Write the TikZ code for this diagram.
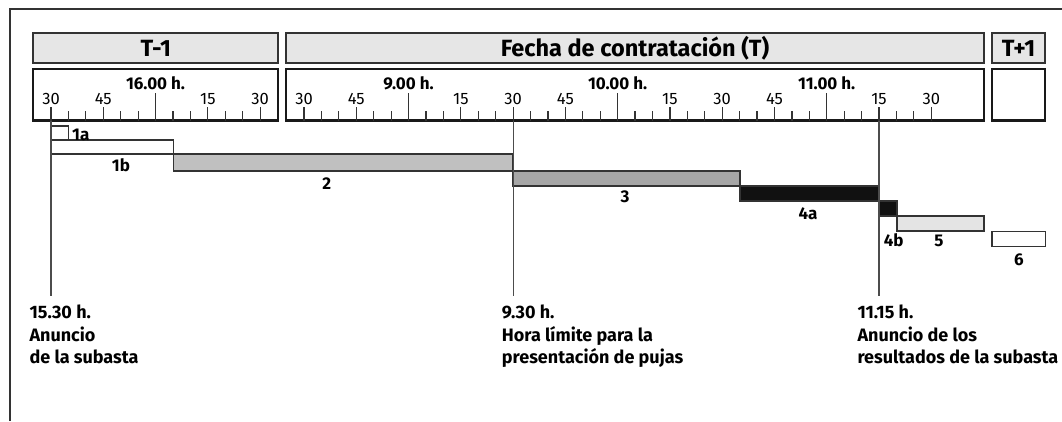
\documentclass[tikz,border=0pt]{standalone}
\usepackage{fontspec}
\setmainfont{Fira Sans}
\usetikzlibrary{fit}
\definecolor{hdrgray}{HTML}{E6E6E6}
\definecolor{edge}{HTML}{333333}
\definecolor{bartwo}{HTML}{C0C0C0}
\definecolor{barthree}{HTML}{A6A6A6}
\definecolor{barfour}{HTML}{111111}
\definecolor{barfive}{HTML}{E4E4E4}
\begin{document}
\begin{tikzpicture}[x=1pt,y=-1pt,
  frameline/.style={draw=edge, line width=1.3pt},
  hdrbox/.style={draw=edge, fill=hdrgray, line width=1.8pt, inner sep=0,
    minimum height=30, font=\bfseries\fontsize{23.5}{23.5}\selectfont,
    text height=16.2pt, text depth=0pt},
  scalebox/.style={draw=black!90, line width=2.2pt, inner sep=0, minimum height=51.2},
  tickline/.style={draw=edge, line width=1.2pt},
  bar/.style={draw=edge, line width=1.4pt, inner sep=0},
  barlbl/.style={font=\bfseries\fontsize{17}{17}\selectfont, inner sep=0, anchor=base},
  qlbl/.style={font=\fontsize{16.5}{16.5}\selectfont, inner sep=0, anchor=base},
  hlbl/.style={font=\bfseries\fontsize{17}{17}\selectfont, inner sep=0, anchor=base},
  marker/.style={draw=black!70, line width=1.2pt},
  note/.style={font=\bfseries\fontsize{18}{22.3}\selectfont, align=left, anchor=north west, inner sep=0}
]
\useasboundingbox (0,0) rectangle (1062,421);
\fill[white] (0,0) rectangle (1062,421);
% outer frame (only top and left edges visible)
\draw[frameline] (10,421) -- (10,9) -- (1062,9);

% header boxes
\node[hdrbox, minimum width=245] (hA) at (155.8,48.3) {T-1};
\node[hdrbox, minimum width=698] (hB) at (635,48.3) {Fecha de contratación (T)};
\node[hdrbox, minimum width=53] (hC) at (1018.5,48.3) {T+1};

% scale boxes
\node[scalebox, minimum width=245] (sA) at (155.8,94.9) {};
\node[scalebox, minimum width=698] (sB) at (635,94.9) {};
\node[scalebox, minimum width=53] (sC) at (1018.5,94.9) {};

% ticks, first box (15.30 to 16.30)
\foreach \t in {0,5,...,60}{
  \pgfmathsetmacro{\xx}{51+\t*3.485}
  \draw[tickline] (\xx,120.5) -- (\xx,111);
}
\foreach \t/\l in {0/30,15/45,45/15,60/30}{
  \pgfmathsetmacro{\xx}{51+\t*3.485}
  \draw[tickline] (\xx,120.5) -- (\xx,107.3);
  \node[qlbl] (qA\t) at (\xx,104.4) {\l};
}
\pgfmathsetmacro{\xx}{51+30*3.485}
\draw[tickline] (\xx,120.5) -- (\xx,92.7);
\node[hlbl] (hrA) at (\xx,89.3) {16.00 h.};

% ticks, second box (8.30 to 11.30)
\foreach \t in {0,5,...,180}{
  \pgfmathsetmacro{\xx}{304+\t*3.485}
  \draw[tickline] (\xx,120.5) -- (\xx,111);
}
\foreach \t/\l in {0/30,15/45,45/15,60/30,75/45,105/15,120/30,135/45,165/15,180/30}{
  \pgfmathsetmacro{\xx}{304+\t*3.485}
  \draw[tickline] (\xx,120.5) -- (\xx,107.3);
  \node[qlbl] (qB\t) at (\xx,104.4) {\l};
}
\foreach \t/\l in {30/9.00 h.,90/10.00 h.,150/11.00 h.}{
  \pgfmathsetmacro{\xx}{304+\t*3.485}
  \draw[tickline] (\xx,120.5) -- (\xx,92.7);
  \node[hlbl] (hrB\t) at (\xx,89.3) {\l};
}

% marker lines
\coordinate (m1t) at (51,120.5);   \coordinate (m1b) at (51,296);
\coordinate (m2t) at (513.1,120.5); \coordinate (m2b) at (513.1,296);
\coordinate (m3t) at (879,120.5);  \coordinate (m3b) at (879,296);

% bars
\node[bar, fill=white,    fit={(51,126) (68.4,140)}] (b1a) {};
\node[bar, fill=white,    fit={(51,140) (173.3,154)}] (b1b) {};
\node[bar, fill=bartwo,   fit={(173.3,154) (513.1,171)}] (b2) {};
\node[bar, fill=barthree, fit={(513.1,171) (740,186)}] (b3) {};
\node[bar, fill=barfour,  fit={(740,186) (879,201)}] (b4a) {};
\node[bar, fill=barfour,  fit={(879,201) (897,216)}] (b4b) {};
\node[bar, fill=barfive,  fit={(897,216) (984,231)}] (b5) {};
\node[bar, fill=white,    fit={(992,231.5) (1045.5,246.5)}] (b6) {};

\draw[marker] (m1t) -- (m1b);
\draw[marker] (m2t) -- (m2b);
\draw[marker] (m3t) -- (m3b);

% bar labels
\node[barlbl, anchor=base west] (l1a) at (72,140) {1a};
\node[barlbl] (l1b) at (121,171) {1b};
\node[barlbl] (l2) at (326.7,189.3) {2};
\node[barlbl] (l3) at (625,202.7) {3};
\node[barlbl] (l4a) at (808,219.5) {4a};
\node[barlbl] (l4b) at (893.7,246.7) {4b};
\node[barlbl] (l5) at (939,246.7) {5};
\node[barlbl] (l6) at (1019,265) {6};

% notes
\node[note] (n1) at (29.3,305) {15.30 h.\\Anuncio\\de la subasta};
\node[note] (n2) at (501.7,305) {9.30 h.\\Hora límite para la\\presentación de pujas};
\node[note] (n3) at (857.3,305) {11.15 h.\\Anuncio de los\\resultados de la subasta};
\end{tikzpicture}
\end{document}
